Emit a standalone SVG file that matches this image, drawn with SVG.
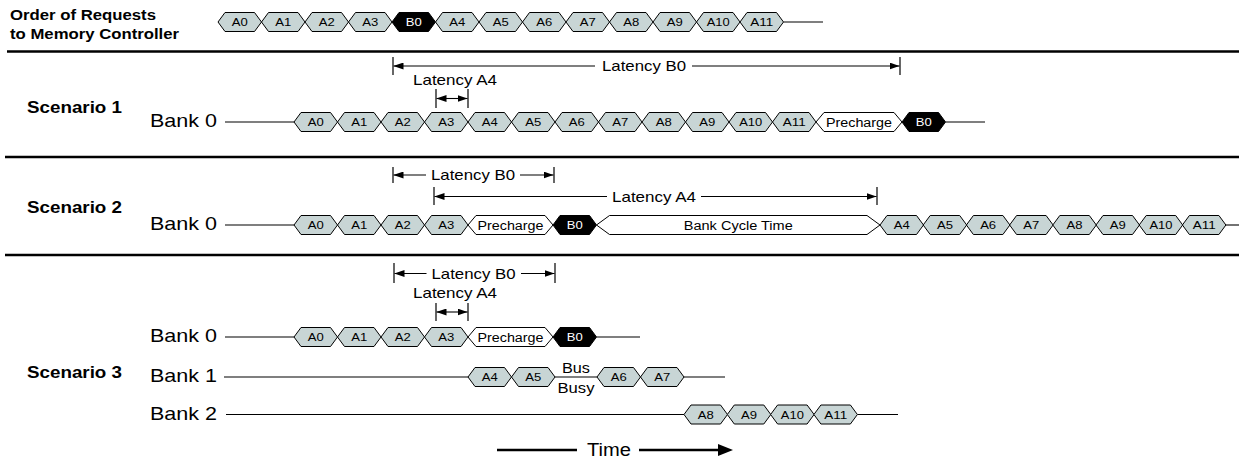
<svg xmlns="http://www.w3.org/2000/svg" xmlns:xlink="http://www.w3.org/1999/xlink" width="1239" height="462" viewBox="0 0 1239 462">
<style>
text{font-family:"Liberation Sans",Arial,sans-serif;fill:#000}
.hex{fill:#c8d5d5;stroke:#000;stroke-width:1}
.blk{fill:#000;stroke:#000;stroke-width:1}
.wht{fill:#fff;stroke:#000;stroke-width:1}
.hl{font-size:11.3px;text-anchor:middle}
.hlw{font-size:11.3px;text-anchor:middle;fill:#fff}
.wl{font-size:12.5px;text-anchor:middle}
.bank{font-size:18.5px}
.scen{font-size:16.5px;font-weight:bold}
.hdr{font-size:14.5px;font-weight:bold}
.lat{font-size:14.5px;text-anchor:middle}
.bus{font-size:14px;text-anchor:middle}
.time{font-size:17.5px;text-anchor:middle}
.ln{stroke:#000;stroke-width:1.1;fill:none}
.tk{stroke:#000;stroke-width:1.2;fill:none}
.thick{stroke:#000;stroke-width:2.6;fill:none}
.sep{stroke:#000;stroke-width:2.6}
</style>
<defs>
<polygon id="hx" points="0,0 7,-9.5 36.5,-9.5 43.5,0 36.5,9.5 7,9.5"/>
<marker id="ah" viewBox="0 0 10 7" refX="10" refY="3.5" markerWidth="10" markerHeight="7" markerUnits="userSpaceOnUse" orient="auto"><path d="M0,0 L10,3.5 L0,7 Z" fill="#000"/></marker>
<marker id="ahb" viewBox="0 0 15 12" refX="7" refY="6" markerWidth="15" markerHeight="12" markerUnits="userSpaceOnUse" orient="auto"><path d="M0,0 L15,6 L0,12 Z" fill="#000"/></marker>
</defs>
<rect width="1239" height="462" fill="#fff"/>

<g id="labels">
<text class="hdr" x="10" y="19.5" textLength="146" lengthAdjust="spacingAndGlyphs">Order of Requests</text>
<text class="hdr" x="10" y="38.5" textLength="169" lengthAdjust="spacingAndGlyphs">to Memory Controller</text>
<text class="scen" x="27" y="112.5" textLength="95" lengthAdjust="spacingAndGlyphs">Scenario 1</text>
<text class="scen" x="27" y="213" textLength="95" lengthAdjust="spacingAndGlyphs">Scenario 2</text>
<text class="scen" x="27" y="377.5" textLength="95" lengthAdjust="spacingAndGlyphs">Scenario 3</text>
<text class="bank" x="150" y="127" textLength="67" lengthAdjust="spacingAndGlyphs">Bank 0</text>
<text class="bank" x="150" y="230" textLength="67" lengthAdjust="spacingAndGlyphs">Bank 0</text>
<text class="bank" x="150" y="342" textLength="67" lengthAdjust="spacingAndGlyphs">Bank 0</text>
<text class="bank" x="150" y="382" textLength="67" lengthAdjust="spacingAndGlyphs">Bank 1</text>
<text class="bank" x="150" y="419.5" textLength="67" lengthAdjust="spacingAndGlyphs">Bank 2</text>
</g>

<g id="separators">
<line class="sep" x1="7" y1="51.5" x2="1239" y2="51.5"/>
<line class="sep" x1="5" y1="157" x2="1239" y2="157"/>
<line class="sep" x1="5" y1="255" x2="1239" y2="255"/>
</g>

<g id="connectors">
<line class="ln" x1="783.5" y1="22" x2="823" y2="22"/>
<line class="ln" x1="225" y1="122" x2="294" y2="122"/>
<line class="ln" x1="945.5" y1="122" x2="985" y2="122"/>
<line class="ln" x1="225" y1="225" x2="294" y2="225"/>
<line class="ln" x1="1225.5" y1="225" x2="1239" y2="225"/>
<line class="ln" x1="225" y1="337" x2="294" y2="337"/>
<line class="ln" x1="596.5" y1="337" x2="640" y2="337"/>
<line class="ln" x1="224" y1="377" x2="468" y2="377"/>
<line class="ln" x1="555" y1="377" x2="597" y2="377"/>
<line class="ln" x1="684" y1="377" x2="725" y2="377"/>
<line class="ln" x1="226" y1="414.5" x2="684" y2="414.5"/>
<line class="ln" x1="857.4" y1="414.5" x2="898" y2="414.5"/>
<!-- Scenario 1 latencies -->
<line class="tk" x1="393" y1="57" x2="393" y2="75"/>
<line class="tk" x1="900" y1="57" x2="900" y2="75"/>
<line class="ln" x1="595" y1="66" x2="393.5" y2="66" marker-end="url(#ah)"/>
<line class="ln" x1="692" y1="66" x2="899.5" y2="66" marker-end="url(#ah)"/>
<text class="lat" x="644" y="71.2" textLength="84" lengthAdjust="spacingAndGlyphs">Latency B0</text>
<text class="lat" x="455" y="85" textLength="84" lengthAdjust="spacingAndGlyphs">Latency A4</text>
<line class="tk" x1="436" y1="89" x2="436" y2="108"/>
<line class="tk" x1="468" y1="89" x2="468" y2="108"/>
<line class="ln" x1="452" y1="98.5" x2="436.5" y2="98.5" marker-end="url(#ah)"/>
<line class="ln" x1="452" y1="98.5" x2="467.5" y2="98.5" marker-end="url(#ah)"/>
<!-- Scenario 2 latencies -->
<line class="tk" x1="393" y1="167" x2="393" y2="183"/>
<line class="tk" x1="554" y1="167" x2="554" y2="183"/>
<line class="ln" x1="426" y1="175" x2="393.5" y2="175" marker-end="url(#ah)"/>
<line class="ln" x1="520" y1="175" x2="553.5" y2="175" marker-end="url(#ah)"/>
<text class="lat" x="473" y="180.2" textLength="84" lengthAdjust="spacingAndGlyphs">Latency B0</text>
<line class="tk" x1="434" y1="187" x2="434" y2="205"/>
<line class="tk" x1="877" y1="187" x2="877" y2="205"/>
<line class="ln" x1="607" y1="196.5" x2="434.5" y2="196.5" marker-end="url(#ah)"/>
<line class="ln" x1="701" y1="196.5" x2="876.5" y2="196.5" marker-end="url(#ah)"/>
<text class="lat" x="654" y="201.7" textLength="84" lengthAdjust="spacingAndGlyphs">Latency A4</text>
<!-- Scenario 3 latencies -->
<line class="tk" x1="394" y1="263" x2="394" y2="283"/>
<line class="tk" x1="555" y1="263" x2="555" y2="283"/>
<line class="ln" x1="426.5" y1="273.5" x2="394.5" y2="273.5" marker-end="url(#ah)"/>
<line class="ln" x1="521" y1="273.5" x2="554.5" y2="273.5" marker-end="url(#ah)"/>
<text class="lat" x="473.5" y="278.7" textLength="84" lengthAdjust="spacingAndGlyphs">Latency B0</text>
<text class="lat" x="455" y="298" textLength="84" lengthAdjust="spacingAndGlyphs">Latency A4</text>
<line class="tk" x1="436" y1="303" x2="436" y2="321"/>
<line class="tk" x1="468" y1="303" x2="468" y2="321"/>
<line class="ln" x1="452" y1="312" x2="436.5" y2="312" marker-end="url(#ah)"/>
<line class="ln" x1="452" y1="312" x2="467.5" y2="312" marker-end="url(#ah)"/>
<!-- Bus busy -->
<text class="bus" x="576" y="373" textLength="28" lengthAdjust="spacingAndGlyphs">Bus</text>
<text class="bus" x="576" y="393" textLength="37" lengthAdjust="spacingAndGlyphs">Busy</text>
<!-- Time arrow -->
<line class="thick" x1="497" y1="450" x2="577" y2="450"/>
<line class="thick" x1="639" y1="450" x2="725" y2="450" marker-end="url(#ahb)"/>
<text class="time" x="609" y="456.3" textLength="44" lengthAdjust="spacingAndGlyphs">Time</text>
</g>

<!-- Order of requests row -->
<g id="req-A0"><use xlink:href="#hx" href="#hx" x="218" y="22" class="hex"/><text class="hl" x="239.75" y="26" textLength="16" lengthAdjust="spacingAndGlyphs">A0</text></g>
<g id="req-A1"><use xlink:href="#hx" href="#hx" x="261.5" y="22" class="hex"/><text class="hl" x="283.25" y="26" textLength="16" lengthAdjust="spacingAndGlyphs">A1</text></g>
<g id="req-A2"><use xlink:href="#hx" href="#hx" x="305" y="22" class="hex"/><text class="hl" x="326.75" y="26" textLength="16" lengthAdjust="spacingAndGlyphs">A2</text></g>
<g id="req-A3"><use xlink:href="#hx" href="#hx" x="348.5" y="22" class="hex"/><text class="hl" x="370.25" y="26" textLength="16" lengthAdjust="spacingAndGlyphs">A3</text></g>
<g id="req-B0"><use xlink:href="#hx" href="#hx" x="392" y="22" class="blk"/><text class="hlw" x="413.75" y="26" textLength="16" lengthAdjust="spacingAndGlyphs">B0</text></g>
<g id="req-A4"><use xlink:href="#hx" href="#hx" x="435.5" y="22" class="hex"/><text class="hl" x="457.25" y="26" textLength="16" lengthAdjust="spacingAndGlyphs">A4</text></g>
<g id="req-A5"><use xlink:href="#hx" href="#hx" x="479" y="22" class="hex"/><text class="hl" x="500.75" y="26" textLength="16" lengthAdjust="spacingAndGlyphs">A5</text></g>
<g id="req-A6"><use xlink:href="#hx" href="#hx" x="522.5" y="22" class="hex"/><text class="hl" x="544.25" y="26" textLength="16" lengthAdjust="spacingAndGlyphs">A6</text></g>
<g id="req-A7"><use xlink:href="#hx" href="#hx" x="566" y="22" class="hex"/><text class="hl" x="587.75" y="26" textLength="16" lengthAdjust="spacingAndGlyphs">A7</text></g>
<g id="req-A8"><use xlink:href="#hx" href="#hx" x="609.5" y="22" class="hex"/><text class="hl" x="631.25" y="26" textLength="16" lengthAdjust="spacingAndGlyphs">A8</text></g>
<g id="req-A9"><use xlink:href="#hx" href="#hx" x="653" y="22" class="hex"/><text class="hl" x="674.75" y="26" textLength="16" lengthAdjust="spacingAndGlyphs">A9</text></g>
<g id="req-A10"><use xlink:href="#hx" href="#hx" x="696.5" y="22" class="hex"/><text class="hl" x="718.25" y="26" textLength="23" lengthAdjust="spacingAndGlyphs">A10</text></g>
<g id="req-A11"><use xlink:href="#hx" href="#hx" x="740" y="22" class="hex"/><text class="hl" x="761.75" y="26" textLength="23" lengthAdjust="spacingAndGlyphs">A11</text></g>

<!-- Scenario 1 -->
<g id="s1-A0"><use xlink:href="#hx" href="#hx" x="294" y="122" class="hex"/><text class="hl" x="315.75" y="126" textLength="16" lengthAdjust="spacingAndGlyphs">A0</text></g>
<g id="s1-A1"><use xlink:href="#hx" href="#hx" x="337.5" y="122" class="hex"/><text class="hl" x="359.25" y="126" textLength="16" lengthAdjust="spacingAndGlyphs">A1</text></g>
<g id="s1-A2"><use xlink:href="#hx" href="#hx" x="381" y="122" class="hex"/><text class="hl" x="402.75" y="126" textLength="16" lengthAdjust="spacingAndGlyphs">A2</text></g>
<g id="s1-A3"><use xlink:href="#hx" href="#hx" x="424.5" y="122" class="hex"/><text class="hl" x="446.25" y="126" textLength="16" lengthAdjust="spacingAndGlyphs">A3</text></g>
<g id="s1-A4"><use xlink:href="#hx" href="#hx" x="468" y="122" class="hex"/><text class="hl" x="489.75" y="126" textLength="16" lengthAdjust="spacingAndGlyphs">A4</text></g>
<g id="s1-A5"><use xlink:href="#hx" href="#hx" x="511.5" y="122" class="hex"/><text class="hl" x="533.25" y="126" textLength="16" lengthAdjust="spacingAndGlyphs">A5</text></g>
<g id="s1-A6"><use xlink:href="#hx" href="#hx" x="555" y="122" class="hex"/><text class="hl" x="576.75" y="126" textLength="16" lengthAdjust="spacingAndGlyphs">A6</text></g>
<g id="s1-A7"><use xlink:href="#hx" href="#hx" x="598.5" y="122" class="hex"/><text class="hl" x="620.25" y="126" textLength="16" lengthAdjust="spacingAndGlyphs">A7</text></g>
<g id="s1-A8"><use xlink:href="#hx" href="#hx" x="642" y="122" class="hex"/><text class="hl" x="663.75" y="126" textLength="16" lengthAdjust="spacingAndGlyphs">A8</text></g>
<g id="s1-A9"><use xlink:href="#hx" href="#hx" x="685.5" y="122" class="hex"/><text class="hl" x="707.25" y="126" textLength="16" lengthAdjust="spacingAndGlyphs">A9</text></g>
<g id="s1-A10"><use xlink:href="#hx" href="#hx" x="729" y="122" class="hex"/><text class="hl" x="750.75" y="126" textLength="23" lengthAdjust="spacingAndGlyphs">A10</text></g>
<g id="s1-A11"><use xlink:href="#hx" href="#hx" x="772.5" y="122" class="hex"/><text class="hl" x="794.25" y="126" textLength="23" lengthAdjust="spacingAndGlyphs">A11</text></g>
<g id="s1-precharge"><polygon class="wht" points="816,122 824,112.5 894,112.5 902,122 894,131.5 824,131.5"/><text class="wl" x="859" y="126.5" textLength="66" lengthAdjust="spacingAndGlyphs">Precharge</text></g>
<g id="s1-B0"><use xlink:href="#hx" href="#hx" x="902" y="122" class="blk"/><text class="hlw" x="923.75" y="126" textLength="16" lengthAdjust="spacingAndGlyphs">B0</text></g>

<!-- Scenario 2 -->
<g id="s2-A0"><use xlink:href="#hx" href="#hx" x="294" y="225" class="hex"/><text class="hl" x="315.75" y="229" textLength="16" lengthAdjust="spacingAndGlyphs">A0</text></g>
<g id="s2-A1"><use xlink:href="#hx" href="#hx" x="337.5" y="225" class="hex"/><text class="hl" x="359.25" y="229" textLength="16" lengthAdjust="spacingAndGlyphs">A1</text></g>
<g id="s2-A2"><use xlink:href="#hx" href="#hx" x="381" y="225" class="hex"/><text class="hl" x="402.75" y="229" textLength="16" lengthAdjust="spacingAndGlyphs">A2</text></g>
<g id="s2-A3"><use xlink:href="#hx" href="#hx" x="424.5" y="225" class="hex"/><text class="hl" x="446.25" y="229" textLength="16" lengthAdjust="spacingAndGlyphs">A3</text></g>
<g id="s2-precharge"><polygon class="wht" points="468,225 476,215.5 545,215.5 553,225 545,234.5 476,234.5"/><text class="wl" x="510.5" y="229.5" textLength="66" lengthAdjust="spacingAndGlyphs">Precharge</text></g>
<g id="s2-B0"><use xlink:href="#hx" href="#hx" x="553" y="225" class="blk"/><text class="hlw" x="574.75" y="229" textLength="16" lengthAdjust="spacingAndGlyphs">B0</text></g>
<g id="s2-bank-cycle"><polygon class="wht" points="596.5,225 609.5,215.5 867,215.5 880,225 867,234.5 609.5,234.5"/><text class="wl" x="738.25" y="229.5" textLength="109" lengthAdjust="spacingAndGlyphs">Bank Cycle Time</text></g>
<g id="s2-A4"><use xlink:href="#hx" href="#hx" x="880" y="225" class="hex"/><text class="hl" x="901.75" y="229" textLength="16" lengthAdjust="spacingAndGlyphs">A4</text></g>
<g id="s2-A5"><use xlink:href="#hx" href="#hx" x="923.2" y="225" class="hex"/><text class="hl" x="944.95" y="229" textLength="16" lengthAdjust="spacingAndGlyphs">A5</text></g>
<g id="s2-A6"><use xlink:href="#hx" href="#hx" x="966.4" y="225" class="hex"/><text class="hl" x="988.15" y="229" textLength="16" lengthAdjust="spacingAndGlyphs">A6</text></g>
<g id="s2-A7"><use xlink:href="#hx" href="#hx" x="1009.6" y="225" class="hex"/><text class="hl" x="1031.35" y="229" textLength="16" lengthAdjust="spacingAndGlyphs">A7</text></g>
<g id="s2-A8"><use xlink:href="#hx" href="#hx" x="1052.8" y="225" class="hex"/><text class="hl" x="1074.55" y="229" textLength="16" lengthAdjust="spacingAndGlyphs">A8</text></g>
<g id="s2-A9"><use xlink:href="#hx" href="#hx" x="1096" y="225" class="hex"/><text class="hl" x="1117.75" y="229" textLength="16" lengthAdjust="spacingAndGlyphs">A9</text></g>
<g id="s2-A10"><use xlink:href="#hx" href="#hx" x="1139.2" y="225" class="hex"/><text class="hl" x="1160.95" y="229" textLength="23" lengthAdjust="spacingAndGlyphs">A10</text></g>
<g id="s2-A11"><use xlink:href="#hx" href="#hx" x="1182.4" y="225" class="hex"/><text class="hl" x="1204.15" y="229" textLength="23" lengthAdjust="spacingAndGlyphs">A11</text></g>

<!-- Scenario 3 Bank 0 -->
<g id="s3b0-A0"><use xlink:href="#hx" href="#hx" x="294" y="337" class="hex"/><text class="hl" x="315.75" y="341" textLength="16" lengthAdjust="spacingAndGlyphs">A0</text></g>
<g id="s3b0-A1"><use xlink:href="#hx" href="#hx" x="337.5" y="337" class="hex"/><text class="hl" x="359.25" y="341" textLength="16" lengthAdjust="spacingAndGlyphs">A1</text></g>
<g id="s3b0-A2"><use xlink:href="#hx" href="#hx" x="381" y="337" class="hex"/><text class="hl" x="402.75" y="341" textLength="16" lengthAdjust="spacingAndGlyphs">A2</text></g>
<g id="s3b0-A3"><use xlink:href="#hx" href="#hx" x="424.5" y="337" class="hex"/><text class="hl" x="446.25" y="341" textLength="16" lengthAdjust="spacingAndGlyphs">A3</text></g>
<g id="s3b0-precharge"><polygon class="wht" points="468,337 476,327.5 545,327.5 553,337 545,346.5 476,346.5"/><text class="wl" x="510.5" y="341.5" textLength="66" lengthAdjust="spacingAndGlyphs">Precharge</text></g>
<g id="s3b0-B0"><use xlink:href="#hx" href="#hx" x="553" y="337" class="blk"/><text class="hlw" x="574.75" y="341" textLength="16" lengthAdjust="spacingAndGlyphs">B0</text></g>

<!-- Scenario 3 Bank 1 -->
<g id="s3b1-A4"><use xlink:href="#hx" href="#hx" x="468" y="377" class="hex"/><text class="hl" x="489.75" y="381" textLength="16" lengthAdjust="spacingAndGlyphs">A4</text></g>
<g id="s3b1-A5"><use xlink:href="#hx" href="#hx" x="511.5" y="377" class="hex"/><text class="hl" x="533.25" y="381" textLength="16" lengthAdjust="spacingAndGlyphs">A5</text></g>
<g id="s3b1-A6"><use xlink:href="#hx" href="#hx" x="597" y="377" class="hex"/><text class="hl" x="618.75" y="381" textLength="16" lengthAdjust="spacingAndGlyphs">A6</text></g>
<g id="s3b1-A7"><use xlink:href="#hx" href="#hx" x="640.5" y="377" class="hex"/><text class="hl" x="662.25" y="381" textLength="16" lengthAdjust="spacingAndGlyphs">A7</text></g>

<!-- Scenario 3 Bank 2 -->
<g id="s3b2-A8"><use xlink:href="#hx" href="#hx" x="684" y="414.5" class="hex"/><text class="hl" x="705.75" y="418.5" textLength="16" lengthAdjust="spacingAndGlyphs">A8</text></g>
<g id="s3b2-A9"><use xlink:href="#hx" href="#hx" x="727.3" y="414.5" class="hex"/><text class="hl" x="749.05" y="418.5" textLength="16" lengthAdjust="spacingAndGlyphs">A9</text></g>
<g id="s3b2-A10"><use xlink:href="#hx" href="#hx" x="770.6" y="414.5" class="hex"/><text class="hl" x="792.35" y="418.5" textLength="23" lengthAdjust="spacingAndGlyphs">A10</text></g>
<g id="s3b2-A11"><use xlink:href="#hx" href="#hx" x="813.9" y="414.5" class="hex"/><text class="hl" x="835.65" y="418.5" textLength="23" lengthAdjust="spacingAndGlyphs">A11</text></g>
</svg>
